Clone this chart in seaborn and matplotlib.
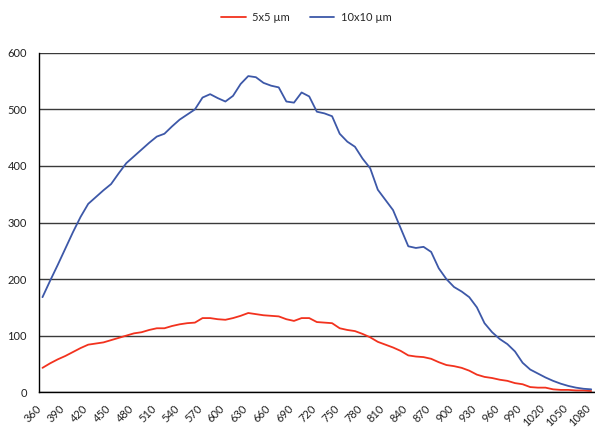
import matplotlib
matplotlib.use("Agg")
import matplotlib.pyplot as plt
import pandas as pd
import seaborn as sns

# Wavelength categories (nm)
wavelengths = list(range(360, 1090, 10))

# 5x5 µm series
small_area = [43, 51, 58, 64, 71, 78, 84, 86, 88, 92,
              96, 100, 104, 106, 110, 113, 113, 117, 120, 122,
              123, 131, 131, 129, 128, 131, 135, 140, 138, 136,
              135, 134, 129, 126, 131, 131, 124, 123, 122, 113,
              110, 108, 103, 97, 89, 84, 79, 73, 65, 63,
              62, 59, 53, 48, 46, 43, 38, 31, 27, 25,
              22, 20, 16, 14, 9, 8, 8, 5, 4, 4,
              3, 3, 2]

# 10x10 µm series
large_area = [168, 197, 225, 254, 283, 310, 333, 345, 357, 368,
              387, 405, 417, 429, 441, 452, 457, 470, 482, 491,
              500, 521, 527, 520, 514, 524, 545, 559, 557, 547,
              542, 539, 514, 512, 530, 523, 496, 493, 488, 457,
              443, 434, 413, 396, 358, 340, 322, 290, 258, 255,
              257, 248, 219, 200, 186, 178, 168, 150, 122, 106,
              94, 85, 72, 52, 40, 33, 26, 20, 15, 11,
              8, 6, 5]

series_names = ["5x5 µm", "10x10 µm"]
colors = ["#F2321E", "#3D58A8"]

df = pd.DataFrame({
    "wavelength": wavelengths * 2,
    "value": small_area + large_area,
    "series": [series_names[0]] * len(wavelengths) + [series_names[1]] * len(wavelengths),
})

sns.set_style("white")
plt.rcParams["font.family"] = ["Lato", "DejaVu Sans"]

fig = plt.figure(figsize=(5.95, 4.30), dpi=100)
ax = fig.add_axes([0.065, 0.088, 0.935, 0.789])

sns.lineplot(data=df, x="wavelength", y="value", hue="series",
             palette=colors, linewidth=1.3, ax=ax, legend=False)

ax.set_yticks(range(0, 700, 100))
label_cats = wavelengths[::3]
ax.set_xticks(label_cats)
ax.set_xticklabels([])
ax.set_xticks([w - 5 for w in wavelengths] + [1085], minor=True)
ax.set_xlim(355, 1085)
ax.set_ylim(0, 600)
ax.tick_params(axis="x", which="major", length=0)
ax.tick_params(axis="x", which="minor", length=3.5, width=0.8, color="black", direction="out")
ax.tick_params(axis="y", length=3.5, width=0.8, color="black", direction="out",
               labelsize=8, labelcolor="#222222", pad=5)

# rotated category labels, set a little left of the category centre
for w in label_cats:
    ax.annotate(str(w), xy=(w, 0), xycoords=("data", "axes fraction"),
                xytext=(-4.5, -7.5), textcoords="offset points",
                rotation=45, ha="right", va="top", rotation_mode="anchor",
                fontsize=8, color="#222222")

ax.grid(axis="y", color="#3a3a3a", linewidth=1.0)
ax.grid(axis="x", visible=False)
ax.set_axisbelow(True)
for side in ["top", "right"]:
    ax.spines[side].set_visible(False)
for side in ["left", "bottom"]:
    ax.spines[side].set_color("black")
    ax.spines[side].set_linewidth(1.0)
ax.set_xlabel("")
ax.set_ylabel("")

handles = [plt.Line2D([], [], color=c, linewidth=1.3) for c in colors]
fig.legend(handles, series_names, loc="center", bbox_to_anchor=(0.515, 0.96),
           ncol=2, frameon=False, fontsize=8, handlelength=2.2,
           columnspacing=1.8, handletextpad=0.6)

fig.savefig("out.png", dpi=100)
